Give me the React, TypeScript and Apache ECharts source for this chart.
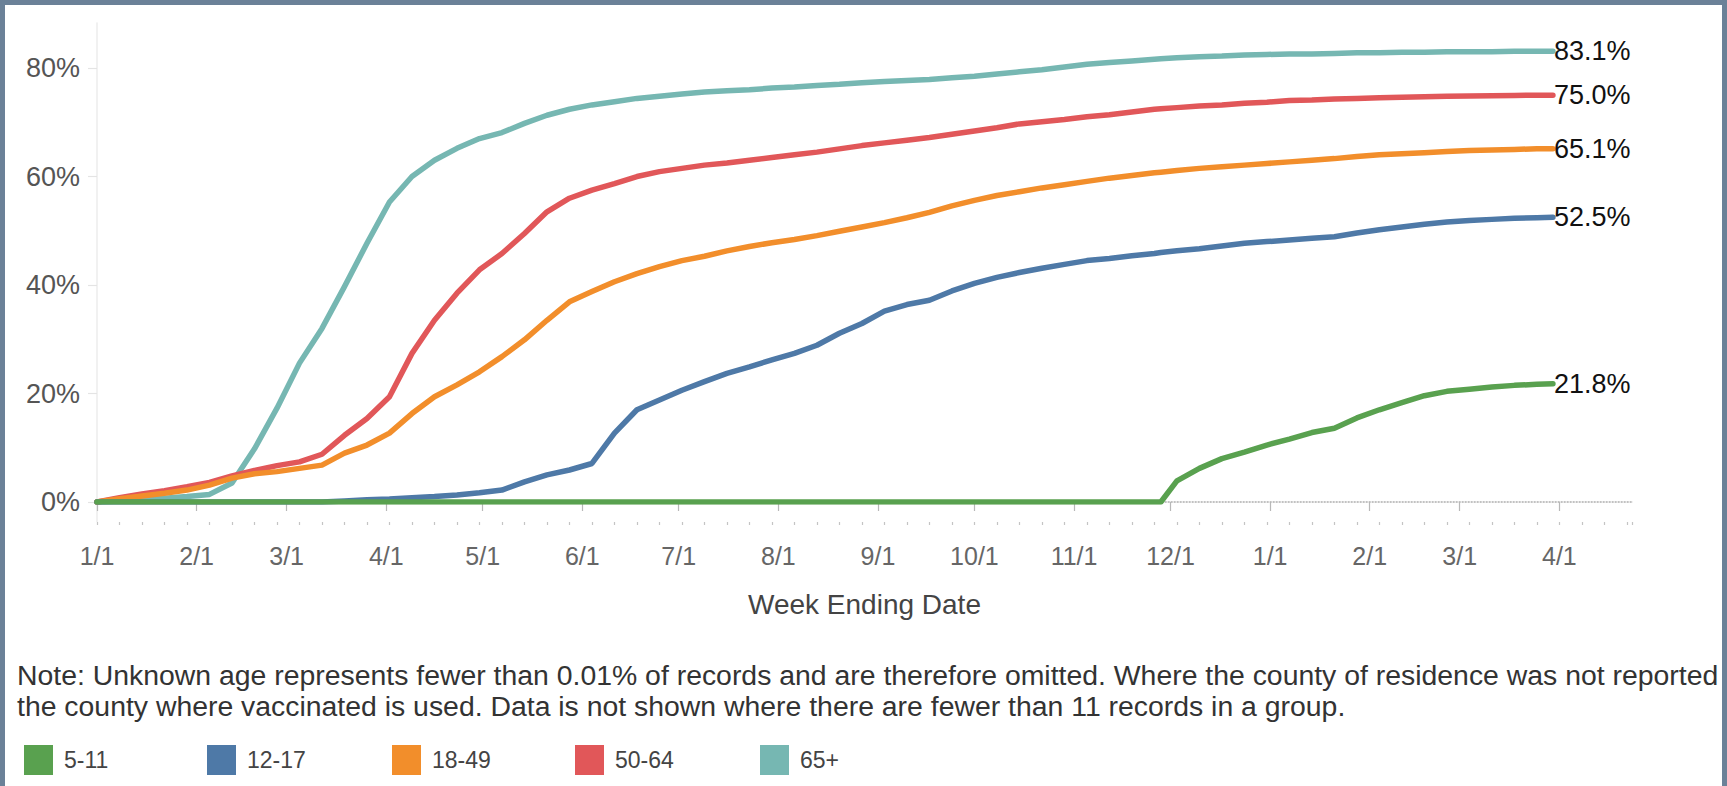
import React, { useEffect, useRef } from "react";
import * as echarts from "echarts";

const weekEnding = [
  "2021-01-01", "2021-01-08", "2021-01-15", "2021-01-22", "2021-01-29", "2021-02-05", "2021-02-12", "2021-02-19",
  "2021-02-26", "2021-03-05", "2021-03-12", "2021-03-19", "2021-03-26", "2021-04-02", "2021-04-09", "2021-04-16",
  "2021-04-23", "2021-04-30", "2021-05-07", "2021-05-14", "2021-05-21", "2021-05-28", "2021-06-04", "2021-06-11",
  "2021-06-18", "2021-06-25", "2021-07-02", "2021-07-09", "2021-07-16", "2021-07-23", "2021-07-30", "2021-08-06",
  "2021-08-13", "2021-08-20", "2021-08-27", "2021-09-03", "2021-09-10", "2021-09-17", "2021-09-24", "2021-10-01",
  "2021-10-08", "2021-10-15", "2021-10-22", "2021-10-29", "2021-11-05", "2021-11-12", "2021-11-19", "2021-11-26",
  "2021-11-28", "2021-12-03", "2021-12-10", "2021-12-17", "2021-12-24", "2021-12-31", "2022-01-07", "2022-01-14",
  "2022-01-21", "2022-01-28", "2022-02-04", "2022-02-11", "2022-02-18", "2022-02-25", "2022-03-04", "2022-03-11",
  "2022-03-18", "2022-03-25", "2022-03-30",
];

const pct65plus = [
  0.0, 0.2, 0.4, 0.7, 1.0, 1.4, 3.5, 9.8, 17.3, 25.6,
  32.0, 39.7, 47.7, 55.3, 60.0, 63.0, 65.2, 67.0, 68.1, 69.8,
  71.3, 72.4, 73.2, 73.8, 74.4, 74.8, 75.2, 75.6, 75.8, 76.0,
  76.3, 76.5, 76.8, 77.0, 77.3, 77.5, 77.7, 77.9, 78.2, 78.5,
  78.9, 79.3, 79.7, 80.2, 80.7, 81.0, 81.3, 81.6, 81.7, 81.9,
  82.1, 82.2, 82.4, 82.5, 82.6, 82.6, 82.7, 82.8, 82.8, 82.9,
  82.9, 83.0, 83.0, 83.0, 83.1, 83.1, 83.1,
];

const pct50to64 = [
  0.0, 0.8, 1.5, 2.1, 2.8, 3.6, 4.8, 5.8, 6.7, 7.4,
  8.8, 12.3, 15.4, 19.4, 27.4, 33.5, 38.5, 42.8, 45.8, 49.5,
  53.5, 56.0, 57.5, 58.7, 60.0, 60.9, 61.5, 62.1, 62.5, 63.0,
  63.5, 64.0, 64.5, 65.1, 65.7, 66.2, 66.7, 67.2, 67.8, 68.4,
  69.0, 69.7, 70.1, 70.5, 71.0, 71.4, 71.9, 72.4, 72.5, 72.7,
  73.0, 73.2, 73.5, 73.7, 74.0, 74.1, 74.3, 74.4, 74.5, 74.6,
  74.7, 74.8, 74.85, 74.9, 74.95, 75.0, 75.0,
];

const pct18to49 = [
  0.0, 0.6, 1.1, 1.6, 2.2, 3.1, 4.4, 5.2, 5.6, 6.2,
  6.8, 9.0, 10.5, 12.7, 16.3, 19.4, 21.6, 24.0, 26.8, 29.9,
  33.5, 36.9, 38.8, 40.6, 42.1, 43.4, 44.5, 45.3, 46.3, 47.1,
  47.8, 48.4, 49.1, 49.9, 50.7, 51.5, 52.4, 53.4, 54.6, 55.6,
  56.5, 57.2, 57.9, 58.5, 59.1, 59.7, 60.2, 60.7, 60.8, 61.1,
  61.5, 61.8, 62.1, 62.4, 62.7, 63.0, 63.3, 63.7, 64.0, 64.2,
  64.4, 64.6, 64.8, 64.9, 65.0, 65.1, 65.1,
];

const pct12to17 = [
  0.0, 0.0, 0.0, 0.0, 0.0, 0.0, 0.0, 0.0, 0.0, 0.0,
  0.0, 0.2, 0.4, 0.55, 0.8, 1.0, 1.3, 1.7, 2.2, 3.7,
  5.0, 5.9, 7.1, 12.7, 17.0, 18.8, 20.6, 22.2, 23.7, 24.9,
  26.2, 27.4, 28.9, 31.1, 32.9, 35.2, 36.4, 37.2, 38.9, 40.3,
  41.4, 42.3, 43.1, 43.8, 44.5, 44.9, 45.4, 45.8, 46.0, 46.3,
  46.7, 47.2, 47.7, 48.0, 48.3, 48.6, 48.9, 49.6, 50.2, 50.7,
  51.2, 51.6, 51.9, 52.1, 52.3, 52.4, 52.5,
];

const pct5to11 = [
  0.0, 0.0, 0.0, 0.0, 0.0, 0.0, 0.0, 0.0, 0.0, 0.0,
  0.0, 0.0, 0.0, 0.0, 0.0, 0.0, 0.0, 0.0, 0.0, 0.0,
  0.0, 0.0, 0.0, 0.0, 0.0, 0.0, 0.0, 0.0, 0.0, 0.0,
  0.0, 0.0, 0.0, 0.0, 0.0, 0.0, 0.0, 0.0, 0.0, 0.0,
  0.0, 0.0, 0.0, 0.0, 0.0, 0.0, 0.0, 0.0, 0.0, 3.9,
  6.2, 8.0, 9.2, 10.5, 11.6, 12.8, 13.6, 15.5, 17.0, 18.3,
  19.6, 20.4, 20.8, 21.2, 21.5, 21.7, 21.8,
];

const ageGroups = ["5-11", "12-17", "18-49", "50-64", "65+"];
const groupColors = ["#59a14f", "#4e79a7", "#f28e2b", "#e15759", "#76b7b2"];
const groupValues = [pct5to11, pct12to17, pct18to49, pct50to64, pct65plus];

const xAxisStart = "2021-01-01";
const xAxisEnd = "2022-04-23 14:24:00";
const weekTickDays = 477.6;
const yMax = 88.3;
const yStep = 20;

const axisTitle = "Week Ending Date";
const noteText =
  "Note: Unknown age represents fewer than 0.01% of records and are therefore omitted. Where the county of residence was not reported\nthe county where vaccinated is used. Data is not shown where there are fewer than 11 records in a group.";

const FONT = "'Liberation Sans', Arial, Helvetica, sans-serif";
const DAY = 86400000;

export default function App() {
  const ref = useRef<HTMLDivElement>(null);

  useEffect(() => {
    document.body.style.margin = "0";
    if (!ref.current) return;
    const chart = echarts.init(ref.current, undefined, { renderer: "svg" });

    // draw order: 65+ at bottom, 5-11 on top
    const order = [4, 3, 2, 1, 0];
    const series: any[] = order.map((gi, k) => ({
      name: ageGroups[gi],
      type: "line",
      xAxisIndex: 0,
      yAxisIndex: 0,
      z: 2 + k,
      data: weekEnding.map((d, i) => [d, groupValues[gi][i]]),
      showSymbol: false,
      symbol: "none",
      smooth: false,
      lineStyle: { width: 5.5, color: groupColors[gi], cap: "round", join: "round" },
      itemStyle: { color: groupColors[gi] },
      emphasis: { disabled: true },
      endLabel: {
        show: true,
        distance: 1,
        color: "#111",
        fontSize: 27,
        fontFamily: FONT,
        formatter: (p: any) => `${Number(p.value[1]).toFixed(1)}%`,
      },
      markLine:
        k === 0
          ? {
              silent: true,
              symbol: ["none", "none"],
              label: { show: false },
              lineStyle: { type: "dotted", color: "#b5b5b5", width: 1.5 },
              emphasis: { disabled: true },
              data: [{ yAxis: 0 }],
              z: 1,
            }
          : undefined,
    }));

    const legendLefts = [24, 207, 392, 575, 760];
    const legends = ageGroups.map((g, i) => ({
      data: [g],
      left: legendLefts[i],
      top: 745,
      padding: 0,
      icon: "rect",
      itemWidth: 29,
      itemHeight: 30,
      selectedMode: false,
      textStyle: {
        fontSize: 23,
        color: "#444",
        padding: [0, 0, 0, 6],
        fontFamily: FONT,
      },
    }));

    chart.setOption({
      animation: false,
      textStyle: { fontFamily: FONT },
      title: {
        text: noteText,
        left: 12,
        top: 654,
        textStyle: {
          fontSize: 28.4,
          fontWeight: "normal",
          color: "#333",
          lineHeight: 31.5,
          fontFamily: FONT,
        },
      },
      legend: legends,
      grid: { left: 97, right: 95, top: 23, bottom: 284, containLabel: false },
      xAxis: [
        {
          type: "time",
          min: xAxisStart,
          max: xAxisEnd,
          offset: 20,
          splitNumber: 16,
          minInterval: 28 * DAY,
          maxInterval: 31 * DAY,
          axisLine: { show: true, lineStyle: { color: "#e2e2e2", width: 1.5 } },
          axisTick: { show: true, length: 9, lineStyle: { color: "#b8b8b8", width: 1.2 } },
          axisLabel: {
            color: "#666",
            fontSize: 25,
            margin: 21,
            showMaxLabel: false,
            hideOverlap: false,
            formatter: (v: number) => {
              const d = new Date(v);
              return `${d.getMonth() + 1}/${d.getDate()}`;
            },
          },
          splitLine: { show: false },
          name: axisTitle,
          nameLocation: "middle",
          nameGap: 68,
          nameTextStyle: { fontSize: 28, color: "#444", fontFamily: FONT },
        },
        {
          type: "value",
          position: "bottom",
          min: 0,
          max: weekTickDays,
          interval: 7,
          offset: 20,
          axisLine: { show: false },
          axisTick: { show: true, length: 3, lineStyle: { color: "#c4c4c4", width: 1.2 } },
          axisLabel: { show: false },
          splitLine: { show: false },
        },
      ],
      yAxis: {
        type: "value",
        min: 0,
        max: yMax,
        interval: yStep,
        axisLine: { show: true, lineStyle: { color: "#ececec", width: 1.5 } },
        axisTick: { show: true, length: 9, lineStyle: { color: "#e4e4e4", width: 1.2 } },
        axisLabel: {
          color: "#555",
          fontSize: 27,
          margin: 17,
          showMaxLabel: false,
          formatter: (v: number) => (Math.abs(v % yStep) < 1e-9 ? `${v}%` : ""),
        },
        splitLine: { show: false },
      },
      graphic: [
        { type: "rect", left: 0, top: 0, shape: { width: 1727, height: 5 }, style: { fill: "#6b8198" }, silent: true },
        { type: "rect", left: 0, top: 0, shape: { width: 5, height: 786 }, style: { fill: "#6b8198" }, silent: true },
        { type: "rect", left: 1722, top: 0, shape: { width: 5, height: 786 }, style: { fill: "#6b8198" }, silent: true },
        {
          type: "line",
          shape: { x1: 97, y1: 502, x2: 97, y2: 522 },
          style: { stroke: "#ececec", lineWidth: 1.5 },
          silent: true,
        },
      ],
      series,
    });

    return () => chart.dispose();
  }, []);

  return <div ref={ref} style={{ width: 1727, height: 786, background: "#fff" }} />;
}
